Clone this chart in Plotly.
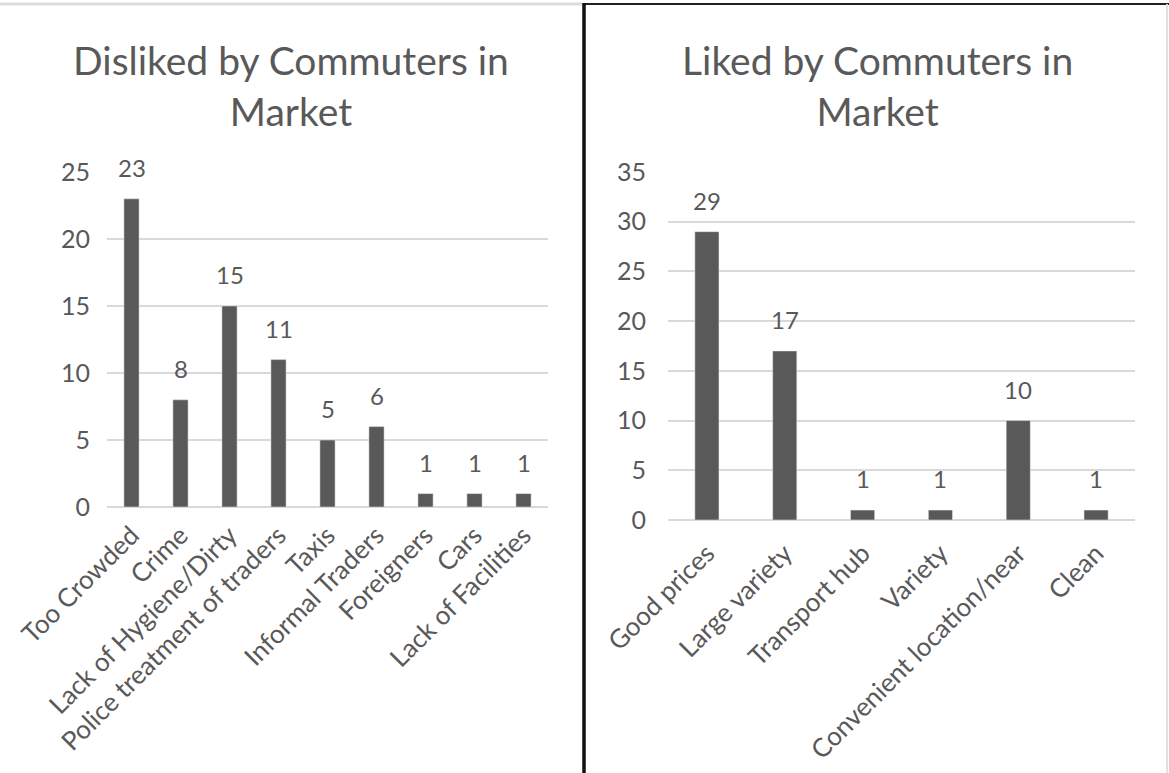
import plotly.graph_objects as go

W, H = 1169, 773

disliked_cats = ["Too Crowded", "Crime", "Lack of Hygiene/Dirty", "Police treatment of traders",
                 "Taxis", "Informal Traders", "Foreigners", "Cars", "Lack of Facilities"]
disliked_vals = [23, 8, 15, 11, 5, 6, 1, 1, 1]

liked_cats = ["Good prices", "Large variety", "Transport hub", "Variety",
              "Convenient location/near", "Clean"]
liked_vals = [29, 17, 1, 1, 10, 1]

left_ticks = [0, 5, 10, 15, 20, 25]
right_ticks = [0, 5, 10, 15, 20, 25, 30, 35]

BAR = "#595959"
TXT = "#595959"
GRID = "#d9d9d9"
FONT = "Lato"


def px(x):
    return x / W


def py(y):
    return 1 - y / H


fig = go.Figure()
fig.add_trace(go.Bar(x=disliked_cats, y=disliked_vals, marker_color=BAR, width=0.31,
                     xaxis="x", yaxis="y", showlegend=False, hoverinfo="x+y"))
fig.add_trace(go.Bar(x=liked_cats, y=liked_vals, marker_color=BAR, width=0.31,
                     xaxis="x2", yaxis="y2", showlegend=False, hoverinfo="x+y"))

label_font = dict(size=24, color=TXT, family=FONT)
annotations = []
for c, v in zip(disliked_cats, disliked_vals):
    annotations.append(dict(x=c, y=v, xref="x", yref="y", text=str(v), showarrow=False,
                            yanchor="bottom", yshift=15, font=label_font))
for c, v in zip(liked_cats, liked_vals):
    annotations.append(dict(x=c, y=v, xref="x2", yref="y2", text=str(v), showarrow=False,
                            yanchor="bottom", yshift=15, font=label_font))

# titles
title_font = dict(size=39, color=TXT, family=FONT)
annotations.append(dict(x=px(291), y=py(85), xref="paper", yref="paper",
                        text="Disliked by Commuters in<br>Market", showarrow=False,
                        xanchor="center", yanchor="middle", align="center", font=title_font))
annotations.append(dict(x=px(877), y=py(85), xref="paper", yref="paper",
                        text="Liked by Commuters in<br>Market", showarrow=False,
                        xanchor="center", yanchor="middle", align="center", font=title_font))

ytick_font = dict(size=25, color=TXT, family=FONT)
xtick_font = dict(size=26, color=TXT, family=FONT)

shapes = [
    dict(type="line", xref="paper", yref="paper", x0=0, x1=px(583), y0=py(4), y1=py(4),
         line=dict(color="#dcdcdc", width=3)),
    dict(type="line", xref="paper", yref="paper", x0=px(584), x1=1, y0=py(4), y1=py(4),
         line=dict(color="#222222", width=2)),
    dict(type="line", xref="paper", yref="paper", x0=px(584), x1=px(584), y0=py(3), y1=0,
         line=dict(color="#111111", width=3.5)),
    dict(type="line", xref="paper", yref="paper", x0=px(1167), x1=px(1167), y0=py(4), y1=0,
         line=dict(color="#e0e0e0", width=2)),
]

fig.update_layout(
    width=W, height=H,
    margin=dict(l=0, r=0, t=0, b=0, autoexpand=False),
    paper_bgcolor="white", plot_bgcolor="white",
    font=dict(family=FONT, color=TXT),
    xaxis=dict(domain=[px(107), px(548)], anchor="y", tickangle=-45, tickfont=xtick_font,
               showline=False, showgrid=False, ticks="", fixedrange=True, automargin=False,
               ticklabelstandoff=7),
    yaxis=dict(domain=[py(507), py(172)], anchor="x", range=[0, 25], tickvals=left_ticks,
               tickfont=ytick_font, showgrid=True, gridcolor=GRID, gridwidth=1.5,
               zeroline=True, zerolinecolor=GRID, zerolinewidth=1.5, ticks="",
               ticklabelstandoff=16, fixedrange=True, automargin=False),
    xaxis2=dict(domain=[px(668), px(1135)], anchor="y2", tickangle=-45, tickfont=xtick_font,
                showline=False, showgrid=False, ticks="", fixedrange=True, automargin=False,
                ticklabelstandoff=12),
    yaxis2=dict(domain=[py(520), py(172)], anchor="x2", range=[0, 35], tickvals=right_ticks,
                tickfont=ytick_font, showgrid=True, gridcolor=GRID, gridwidth=1.5,
                zeroline=True, zerolinecolor=GRID, zerolinewidth=1.5, ticks="",
                ticklabelstandoff=21, fixedrange=True, automargin=False),
    annotations=annotations,
    shapes=shapes,
)

fig.write_html("out.html", config={"displayModeBar": False},
               post_script="document.body.style.margin='0';")
